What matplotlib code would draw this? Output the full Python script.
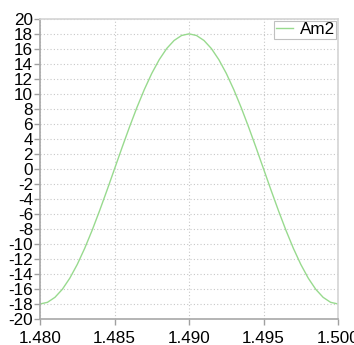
import numpy as np
import matplotlib
matplotlib.use('Agg')
import matplotlib.pyplot as plt

plt.rcParams['font.family'] = ['Liberation Sans', 'DejaVu Sans']
plt.rcParams['axes.unicode_minus'] = False

# values (step 0.0005)
x_vals = [1.4800, 1.4805, 1.4810, 1.4815, 1.4820, 1.4825, 1.4830, 1.4835, 1.4840, 1.4845,
          1.4850, 1.4855, 1.4860, 1.4865, 1.4870, 1.4875, 1.4880, 1.4885, 1.4890, 1.4895,
          1.4900, 1.4905, 1.4910, 1.4915, 1.4920, 1.4925, 1.4930, 1.4935, 1.4940, 1.4945,
          1.4950, 1.4955, 1.4960, 1.4965, 1.4970, 1.4975, 1.4980, 1.4985, 1.4990, 1.4995,
          1.5000]
am2 = [-18.0, -17.78, -17.12, -16.04, -14.56, -12.73, -10.58, -8.17, -5.56, -2.82,
       0.0, 2.82, 5.56, 8.17, 10.58, 12.73, 14.56, 16.04, 17.12, 17.78,
       18.0, 17.78, 17.12, 16.04, 14.56, 12.73, 10.58, 8.17, 5.56, 2.82,
       0.0, -2.82, -5.56, -8.17, -10.58, -12.73, -14.56, -16.04, -17.12, -17.78,
       -18.0]
series_name = 'Am2'
x_ticks = [1.480, 1.485, 1.490, 1.495, 1.500]
y_ticks = list(range(-20, 21, 2))

fig = plt.figure(figsize=(3.54, 3.45), dpi=100)
ax = fig.add_axes([0.113, 0.0754, 0.842, 0.87])

ax.plot(x_vals, am2, color='#98da8e', linewidth=1.0, label=series_name)

ax.set_xlim(1.480, 1.500)
ax.set_ylim(-20, 20)
ax.set_xticks(x_ticks)
ax.set_xticklabels([f'{t:.3f}' for t in x_ticks])
ax.set_yticks(y_ticks)
ax.tick_params(axis='both', colors='#a0a0a0', labelcolor='black', labelsize=12.3,
               length=4.5, width=1)
ax.tick_params(axis='y', pad=0.5)
ax.tick_params(axis='x', pad=4)
ax.grid(True, color='#c8c8c8', linestyle=(0, (1, 2)), linewidth=0.8)

for side in ['left', 'bottom']:
    ax.spines[side].set_color('#a8a8a8')
for side in ['top', 'right']:
    ax.spines[side].set_color('#d4d4d4')
for s in ax.spines.values():
    s.set_linewidth(1.2)

leg = ax.legend(loc='upper right', fontsize=12.3, fancybox=False, framealpha=1,
                borderaxespad=0.1, handlelength=1.0, handletextpad=0.4,
                borderpad=0.1)
leg.get_frame().set_edgecolor('#c0c0c0')
leg.get_frame().set_linewidth(0.8)

fig.savefig('out.png', dpi=100)
